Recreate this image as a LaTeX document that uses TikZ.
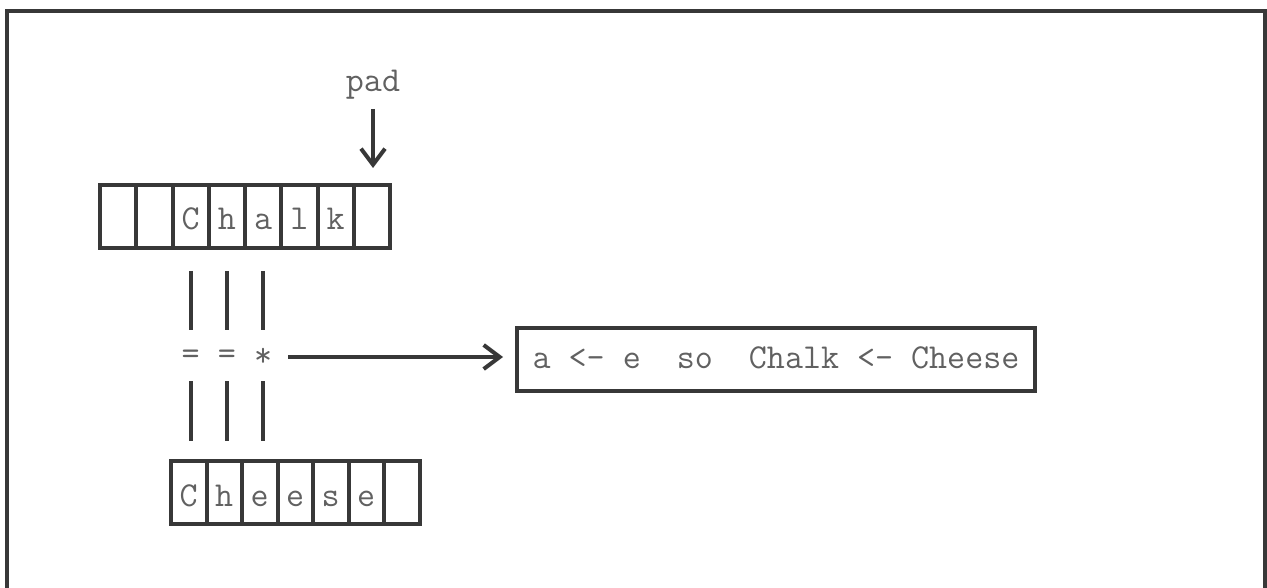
\documentclass[tikz,border=0pt]{standalone}
\usepackage{fontspec}
\usepackage{tikz}
\usetikzlibrary{positioning,arrows.meta}
\definecolor{ink}{rgb}{0.22,0.22,0.22}
\definecolor{letter}{rgb}{0.38,0.38,0.38}

\begin{document}
\begin{tikzpicture}[x=1pt, y=-1pt, line width=4pt, color=ink, node distance=-4pt,
	every node/.style={font=\ttfamily\fontsize{35}{42}\selectfont, text=letter, inner sep=0pt},
	cell/.style={draw=ink, rectangle, minimum width=36.25pt, minimum height=63pt, text height=27pt, text depth=0pt},
	small cell/.style={cell, minimum width=35.5pt},
	sym/.style={minimum width=36pt, minimum height=44pt},
	arr/.style={-{Straight Barb[length=16pt,width=24pt]}},]

    \path[use as bounding box, clip] (0,0) rectangle (1267,588);
    \draw (7,600) |- (1265,11) -- (1265,600);

    % top row
    \node[cell] (t1) at (118.125,216.5) {};
    \node[cell, right=of t1] (t2) {};
    \node[cell, right=of t2] (t3) {C};
    \node[cell, right=of t3] (t4) {h};
    \node[cell, right=of t4] (t5) {a};
    \node[cell, right=of t5] (t6) {l};
    \node[cell, right=of t6] (t7) {k};
    \node[cell, right=of t7] (t8) {};

    % bottom row
    \node[small cell] (b1) at (188.75,492.5) {C};
    \node[small cell, right=of b1] (b2) {h};
    \node[small cell, right=of b2] (b3) {e};
    \node[small cell, right=of b3] (b4) {e};
    \node[small cell, right=of b4] (b5) {s};
    \node[small cell, right=of b5] (b6) {e};
    \node[small cell, right=of b6] (b7) {};

    \node[anchor=base] (pad) at (373,92) {pad};
    \draw[arr, shorten <=7pt, shorten >=15pt] (pad.south) -- (pad.south |- t8.north);

    % compare
    \node[sym] (e1) at (t3 |- 0,357) {=};
    \node[sym] (e2) at (t4 |- 0,357) {=};
    \node[sym] (st) at (t5 |- 0,357) {*};
    \draw[shorten <=21pt, shorten >=3pt] (t3.south) -- (e1.north);
    \draw[shorten <=21pt, shorten >=3pt] (t4.south) -- (e2.north);
    \draw[shorten <=21pt, shorten >=3pt] (t5.south) -- (st.north);
    \draw[shorten >=18pt] (e1.south) -- (e1.south |- b1.north);
    \draw[shorten >=18pt] (e2.south) -- (e2.south |- b2.north);
    \draw[shorten >=18pt] (st.south) -- (st.south |- b3.north);

    \node[draw=ink, minimum width=518pt, minimum height=63pt, text height=17pt, text depth=0pt] (res) at (776,359.5) {a <- e~~so~~Chalk <- Cheese};
    \draw[arr, shorten <=5pt, shorten >=12pt] (st.east) -- (st.east -| res.west);
\end{tikzpicture}
\end{document}
